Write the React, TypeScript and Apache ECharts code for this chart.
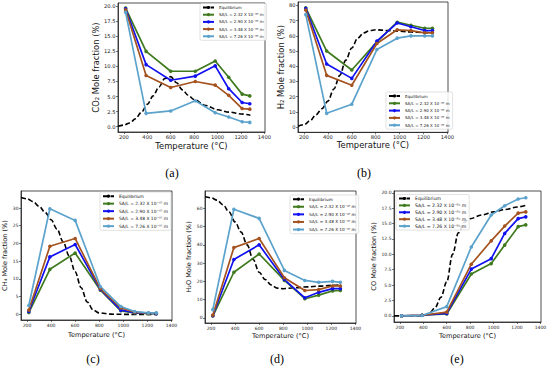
import React, { useEffect, useRef } from "react";
import * as echarts from "echarts";

// Temperatures (°C) of the measured points
const temps = [215, 390, 600, 810, 980, 1095, 1210, 1275];
// Temperatures of the equilibrium curve readings
const eqTemps = [150, 200, 250, 300, 350, 400, 450, 500, 550, 600, 650, 700, 750, 800, 900, 1000, 1100, 1200, 1280];
const xTicks = [200, 400, 600, 800, 1000, 1200, 1400];

const seriesNames = [
  "SA/L = 2.32 X 10⁻⁰⁵ m",
  "SA/L = 2.90 X 10⁻⁰⁵ m",
  "SA/L = 3.48 X 10⁻⁰⁵ m",
  "SA/L = 7.26 X 10⁻⁰⁵ m",
];
const eqName = "Equilibrium";

// (a) CO2
const co2_232 = [19.7, 12.5, 9.2, 9.2, 10.9, 8.2, 5.4, 5.1];
const co2_290 = [19.6, 10.3, 7.7, 8.4, 10.1, 6.3, 4.0, 3.8];
const co2_348 = [19.4, 8.5, 6.5, 7.5, 6.9, 5.2, 3.0, 2.9];
const co2_726 = [19.0, 2.2, 2.6, 4.3, 2.3, 1.6, 0.8, 0.7];
const co2_eq = [0.05, 0.25, 0.6, 1.3, 2.4, 3.7, 5.1, 6.6, 8.0, 8.3, 7.3, 6.1, 5.2, 4.5, 3.5, 2.8, 2.4, 2.1, 1.9];

// (b) H2
const h2_232 = [78.5, 50, 37.5, 56, 69, 67, 65, 65];
const h2_290 = [78, 41.5, 32, 56.5, 68.5, 66, 63.5, 63.5];
const h2_348 = [77, 34, 27.5, 55, 64, 63.5, 62, 62];
const h2_726 = [74, 9, 15, 51, 58.5, 60, 60, 60];
const h2_eq = [0.5, 1.5, 4, 8, 12, 17, 25, 34, 44, 52, 58.5, 62, 63.5, 64, 63.5, 63, 62.5, 62.2, 62];

// (c) CH4
const ch4_232 = [0.5, 12.7, 17.3, 6.8, 1.0, 0.4, 0.2, 0.2];
const ch4_290 = [0.8, 16.2, 19.7, 7.0, 1.2, 0.5, 0.3, 0.2];
const ch4_348 = [1.2, 19.2, 21.4, 7.2, 1.8, 0.6, 0.3, 0.3];
const ch4_726 = [2.5, 29.8, 26.5, 7.8, 2.2, 0.8, 0.4, 0.4];
const ch4_eq = [33, 32.6, 31.8, 30.5, 28.8, 26.7, 24, 20.5, 16.5, 12, 7.5, 3.5, 1.2, 0.4, 0.05, 0, 0, 0, 0];

// (d) H2O
const h2o_232 = [1.0, 25, 35, 20.5, 10.5, 12.5, 14.8, 15];
const h2o_290 = [1.2, 32, 40, 21, 11, 14, 16, 16];
const h2o_348 = [1.5, 38.5, 43.5, 22, 15, 15.5, 17.5, 17.5];
const h2o_726 = [4.5, 59.5, 54.5, 26, 20.5, 19.5, 20, 19.5];
const h2o_eq = [66.3, 65.8, 64.5, 62, 58, 52.5, 47, 40, 32, 25, 21, 18, 16.3, 16, 16.5, 17, 17.4, 17.8, 18];

// (e) CO
const co_232 = [0, 0.1, 0.3, 6.8, 8.5, 11.5, 14.5, 14.8];
const co_290 = [0, 0.1, 0.4, 7.6, 9.3, 13.4, 15.8, 16.1];
const co_348 = [0, 0.1, 0.6, 8.4, 12.2, 14.6, 16.7, 16.9];
const co_726 = [0, 0.05, 1.5, 11.2, 16.4, 17.9, 19.0, 19.2];
const co_eq = [0, 0, 0, 0, 0, 0.05, 0.4, 1.3, 3.0, 5.5, 10, 13.5, 15.2, 15.8, 16.4, 16.9, 17.3, 17.7, 18];

const yTicksA = [0, 2.5, 5, 7.5, 10, 12.5, 15, 17.5, 20];
const yTicksB = [0, 10, 20, 30, 40, 50, 60, 70, 80];
const yTicksC = [0, 5, 10, 15, 20, 25, 30];
const yTicksD = [0, 10, 20, 30, 40, 50, 60];
const yTicksE = [0, 2.5, 5, 7.5, 10, 12.5, 15, 17.5, 20];

const colors = ["#3f7a1f", "#1010f0", "#a4531f", "#5ba2cc"];
const FONT = "DejaVu Sans";

type Panel = {
  label: string;
  labelPos: [number, number];
  grid: { left: number; top: number; width: number; height: number };
  yRange: [number, number];
  yTicks: number[];
  yDec: number;
  yName: string;
  yGap: number;
  xGap: number;
  nameSize: number;
  tickSize: number;
  legend: { left: number; top: number; fontSize: number; lh: number; gap: number };
  data: number[][];
  eq: number[];
};

const panels: Panel[] = [
  {
    label: "(a)", labelPos: [172, 173],
    grid: { left: 118, top: 3, width: 147, height: 129 },
    yRange: [-0.9, 20.55], yTicks: yTicksA, yDec: 1,
    yName: "CO₂ Mole fraction (%)", yGap: 14.5, xGap: 9.5, nameSize: 8.4, tickSize: 5.2,
    legend: { left: 200, top: 3.5, fontSize: 4, lh: 5, gap: 2.2 },
    data: [co2_232, co2_290, co2_348, co2_726], eq: co2_eq,
  },
  {
    label: "(b)", labelPos: [364, 173],
    grid: { left: 298, top: 2, width: 150, height: 130.3 },
    yRange: [-3.5, 82.3], yTicks: yTicksB, yDec: 0,
    yName: "H₂ Mole fraction (%)", yGap: 8, xGap: 9, nameSize: 8.4, tickSize: 5.2,
    legend: { left: 386, top: 92, fontSize: 4, lh: 5, gap: 2.3 },
    data: [h2_232, h2_290, h2_348, h2_726], eq: h2_eq,
  },
  {
    label: "(c)", labelPos: [93, 359],
    grid: { left: 21, top: 191, width: 151, height: 129 },
    yRange: [-1.6, 34.8], yTicks: yTicksC, yDec: 0,
    yName: "CH₄ Mole fraction (%)", yGap: 10, xGap: 11, nameSize: 6.6, tickSize: 4.5,
    legend: { left: 100, top: 192, fontSize: 4.4, lh: 5.3, gap: 2.2 },
    data: [ch4_232, ch4_290, ch4_348, ch4_726], eq: ch4_eq,
  },
  {
    label: "(d)", labelPos: [277, 359],
    grid: { left: 205, top: 191, width: 151, height: 132 },
    yRange: [-2.8, 69.5], yTicks: yTicksD, yDec: 0,
    yName: "H₂O Mole fraction (%)", yGap: 10, xGap: 9, nameSize: 6.6, tickSize: 4.5,
    legend: { left: 290, top: 195, fontSize: 4.2, lh: 5.3, gap: 2.3 },
    data: [h2o_232, h2o_290, h2o_348, h2o_726], eq: h2o_eq,
  },
  {
    label: "(e)", labelPos: [457, 359],
    grid: { left: 394, top: 191, width: 147, height: 131 },
    yRange: [-1.0, 20.3], yTicks: yTicksE, yDec: 1,
    yName: "CO Mole fraction (%)", yGap: 9.5, xGap: 10, nameSize: 6.6, tickSize: 4.5,
    legend: { left: 396, top: 194.5, fontSize: 4.6, lh: 5.0, gap: 1.9 },
    data: [co_232, co_290, co_348, co_726], eq: co_eq,
  },
];

function buildOption() {
  const grid: any[] = [];
  const xAxis: any[] = [];
  const yAxis: any[] = [];
  const series: any[] = [];
  const legend: any[] = [];
  const graphic: any[] = [];

  panels.forEach((p, i) => {
    grid.push({
      ...p.grid,
      show: true,
      borderColor: "#222",
      borderWidth: 0.8,
      backgroundColor: "#fff",
    });
    xAxis.push({
      type: "value",
      gridIndex: i,
      min: 150,
      max: 1405,
      name: "Temperature (°C)",
      nameLocation: "middle",
      nameGap: p.xGap,
      nameTextStyle: { fontFamily: FONT, fontSize: p.nameSize, fontWeight: "normal", color: "#111", verticalAlign: "top" },
      axisLine: { show: true, onZero: false, lineStyle: { color: "#222", width: 0.8 } },
      axisTick: { show: true, length: 2, customValues: xTicks, lineStyle: { color: "#222", width: 0.6 } },
      axisLabel: {
        customValues: xTicks,
        fontFamily: FONT,
        fontSize: p.tickSize,
        color: "#222",
        margin: 2.5,
        formatter: (v: number) => String(Math.round(v)),
      },
      splitLine: { show: false },
    });
    yAxis.push({
      type: "value",
      gridIndex: i,
      min: p.yRange[0],
      max: p.yRange[1],
      name: p.yName,
      nameLocation: "middle",
      nameRotate: 90,
      nameGap: p.yGap,
      nameTextStyle: { fontFamily: FONT, fontSize: p.nameSize, fontWeight: "normal", color: "#111" },
      axisLine: { show: true, onZero: false, lineStyle: { color: "#222", width: 0.8 } },
      axisTick: { show: true, length: 2, customValues: p.yTicks, lineStyle: { color: "#222", width: 0.6 } },
      axisLabel: {
        customValues: p.yTicks,
        fontFamily: FONT,
        fontSize: p.tickSize,
        color: "#222",
        margin: 2.5,
        formatter: (v: number) => v.toFixed(p.yDec),
      },
      splitLine: { show: false },
    });

    series.push({
      type: "line",
      name: eqName,
      xAxisIndex: i,
      yAxisIndex: i,
      data: eqTemps.map((t, k) => [t, p.eq[k]]),
      smooth: 0.35,
      smoothMonotone: "x",
      symbol: "none",
      showSymbol: false,
      lineStyle: { color: "#000", width: 1.6, type: [5, 2.5] },
      itemStyle: { color: "#000" },
      z: 2,
    });
    p.data.forEach((vals, s) => {
      series.push({
        type: "line",
        name: seriesNames[s],
        xAxisIndex: i,
        yAxisIndex: i,
        data: temps.map((t, k) => [t, vals[k]]),
        symbol: "circle",
        symbolSize: 3.6,
        lineStyle: { color: colors[s], width: 1.7 },
        itemStyle: { color: colors[s] },
        z: 3,
      });
    });

    legend.push({
      left: p.legend.left,
      top: p.legend.top,
      orient: "vertical",
      selectedMode: false,
      data: [eqName, ...seriesNames],
      itemWidth: 11,
      itemHeight: 4,
      itemGap: p.legend.gap,
      padding: [1.5, 3, 1.5, 2],
      borderColor: "#cfcfcf",
      borderWidth: 0.6,
      borderRadius: 1.5,
      backgroundColor: "rgba(255,255,255,0.85)",
      textStyle: { fontFamily: FONT, fontSize: p.legend.fontSize, lineHeight: p.legend.lh, color: "#111" },
    });

    graphic.push({
      type: "text",
      x: p.labelPos[0],
      y: p.labelPos[1],
      style: {
        text: p.label,
        fontFamily: "Liberation Serif",
        fontSize: 12,
        fill: "#000",
        textAlign: "center",
        textVerticalAlign: "middle",
      },
    });
  });

  return {
    animation: false,
    backgroundColor: "#fff",
    grid,
    xAxis,
    yAxis,
    series,
    legend,
    graphic,
  };
}

export default function App() {
  const ref = useRef<HTMLDivElement>(null);
  useEffect(() => {
    if (!ref.current) return;
    const chart = echarts.init(ref.current, undefined, { renderer: "svg" });
    chart.setOption(buildOption() as any);
    return () => chart.dispose();
  }, []);
  return (
    <div
      ref={ref}
      style={{ width: 550, height: 371, position: "absolute", left: 0, top: 0 }}
    />
  );
}
